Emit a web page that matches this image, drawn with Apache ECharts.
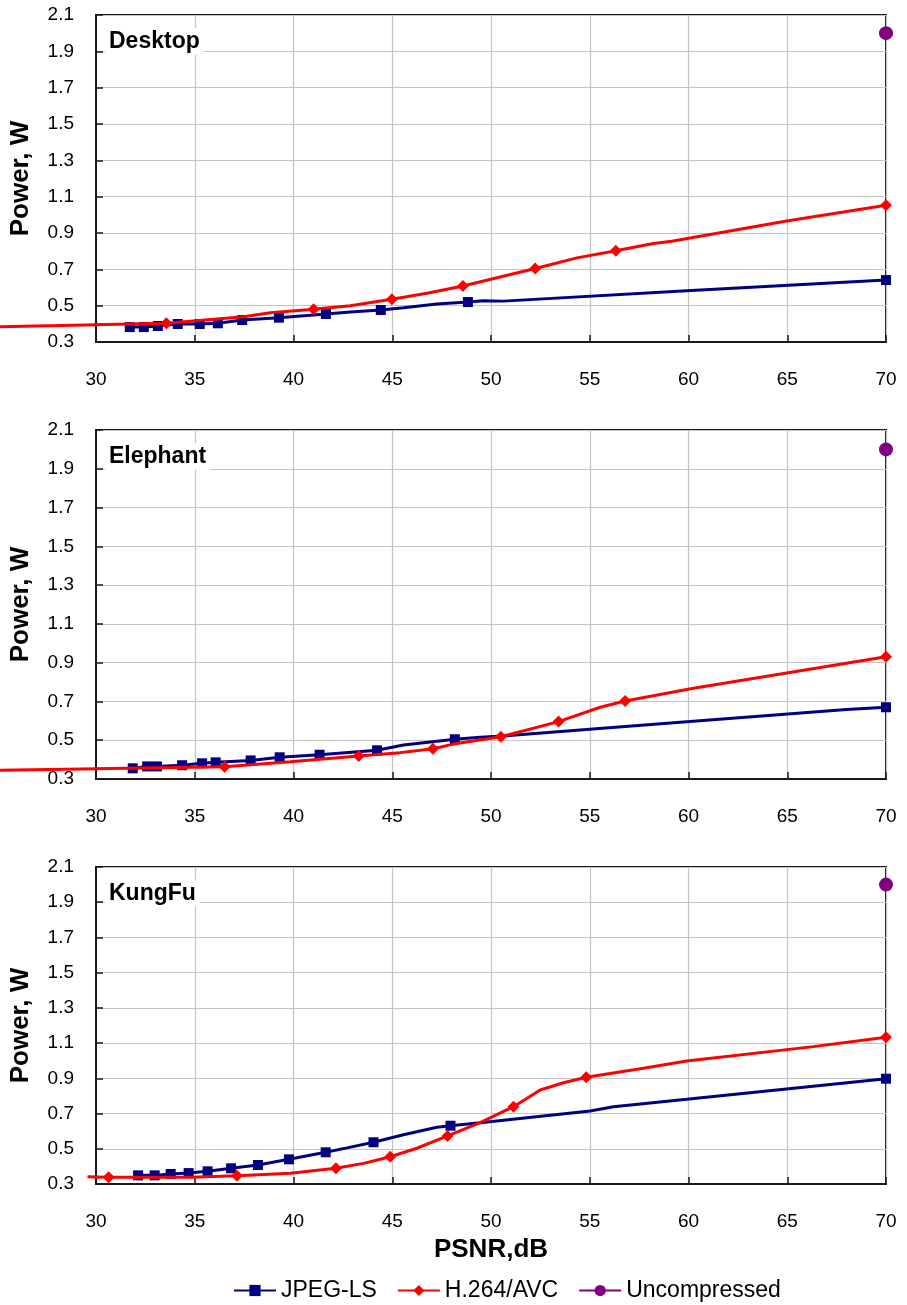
<!DOCTYPE html>
<html>
<head>
<meta charset="utf-8">
<script src="https://cdn.jsdelivr.net/npm/echarts@6/dist/echarts.min.js"></script>
<style>
html,body{margin:0;padding:0;background:#fff;}
#chart{width:907px;height:1305px;}
</style>
</head>
<body>
<div id="chart"></div>
<script>
// ---------- DATA ----------
const panelNames = ['Desktop', 'Elephant', 'KungFu'];
const seriesNames = ['JPEG-LS', 'H.264/AVC', 'Uncompressed'];
const xTickValues = [30, 35, 40, 45, 50, 55, 60, 65, 70];
const yTickValues = [0.3, 0.5, 0.7, 0.9, 1.1, 1.3, 1.5, 1.7, 1.9, 2.1];

// Desktop
const desktopJpegX = [31.71, 32.42, 33.13, 34.14, 35.25, 36.17, 37.40, 39.26, 41.64, 42.87, 44.42, 45.57, 47.26, 48.83, 49.62, 50.63, 59.91, 70];
const desktopJpegY = [0.382, 0.382, 0.388, 0.399, 0.399, 0.403, 0.421, 0.434, 0.454, 0.465, 0.476, 0.489, 0.509, 0.520, 0.527, 0.525, 0.582, 0.641];
const desktopJpegM = [1, 1, 1, 1, 1, 1, 1, 1, 1, 0, 1, 0, 0, 1, 0, 0, 0, 1];
const desktopAvcX = [24.0, 33.56, 37.47, 38.83, 41.02, 42.87, 44.98, 46.76, 48.58, 52.24, 54.35, 56.32, 58.22, 59.15, 64.97, 70];
const desktopAvcY = [0.382, 0.403, 0.439, 0.461, 0.480, 0.500, 0.535, 0.568, 0.608, 0.705, 0.763, 0.802, 0.842, 0.855, 0.966, 1.053];
const desktopAvcM = [0, 1, 0, 0, 1, 0, 1, 0, 1, 1, 0, 1, 0, 0, 0, 1];
const desktopRawX = [70];
const desktopRawY = [2.0];

// Elephant
const elephantJpegX = [31.86, 32.59, 33.09, 34.36, 35.37, 36.06, 37.83, 39.30, 41.32, 44.23, 45.57, 48.17, 49.45, 50.6, 55.0, 59.91, 68.0, 70];
const elephantJpegY = [0.355, 0.365, 0.365, 0.371, 0.381, 0.386, 0.396, 0.412, 0.425, 0.448, 0.475, 0.505, 0.515, 0.522, 0.556, 0.595, 0.659, 0.670];
const elephantJpegM = [1, 1, 1, 1, 1, 1, 1, 1, 1, 1, 0, 1, 0, 0, 0, 0, 0, 1];
const elephantAvcX = [24.0, 36.51, 39.84, 43.30, 45.40, 47.06, 48.10, 50.50, 53.42, 55.53, 56.79, 58.90, 60.25, 70];
const elephantAvcY = [0.344, 0.363, 0.389, 0.419, 0.436, 0.456, 0.480, 0.518, 0.596, 0.670, 0.702, 0.742, 0.768, 0.931];
const elephantAvcM = [0, 1, 0, 1, 0, 1, 0, 1, 1, 0, 1, 0, 0, 1];
const elephantRawX = [70];
const elephantRawY = [2.0];

// KungFu
const kungfuJpegX = [32.13, 32.97, 33.78, 34.69, 35.65, 36.84, 38.20, 39.77, 41.63, 42.71, 44.05, 45.57, 47.26, 47.95, 49.45, 55.02, 56.20, 59.91, 70];
const kungfuJpegY = [0.349, 0.349, 0.357, 0.362, 0.372, 0.389, 0.408, 0.440, 0.480, 0.505, 0.537, 0.580, 0.622, 0.631, 0.648, 0.715, 0.739, 0.781, 0.898];
const kungfuJpegM = [1, 1, 1, 1, 1, 1, 1, 1, 1, 0, 1, 0, 0, 1, 0, 0, 0, 0, 1];
const kungfuAvcX = [29.57, 30.64, 34.78, 37.14, 39.84, 42.15, 43.55, 44.90, 46.25, 47.80, 49.45, 51.14, 52.49, 53.67, 54.82, 57.72, 59.91, 66.32, 70];
const kungfuAvcY = [0.341, 0.338, 0.338, 0.347, 0.361, 0.389, 0.417, 0.455, 0.503, 0.573, 0.648, 0.739, 0.834, 0.875, 0.906, 0.957, 0.998, 1.080, 1.133];
const kungfuAvcM = [0, 1, 0, 1, 0, 1, 0, 1, 0, 1, 0, 1, 0, 0, 1, 0, 0, 0, 1];
const kungfuRawX = [70];
const kungfuRawY = [2.0];

// ---------- BUILD ----------
const FONT = '"Liberation Sans", Arial, Helvetica, sans-serif';
const panels = [
  {jx: desktopJpegX, jy: desktopJpegY, jm: desktopJpegM, ax: desktopAvcX, ay: desktopAvcY, am: desktopAvcM, rx: desktopRawX, ry: desktopRawY},
  {jx: elephantJpegX, jy: elephantJpegY, jm: elephantJpegM, ax: elephantAvcX, ay: elephantAvcY, am: elephantAvcM, rx: elephantRawX, ry: elephantRawY},
  {jx: kungfuJpegX, jy: kungfuJpegY, jm: kungfuJpegM, ax: kungfuAvcX, ay: kungfuAvcY, am: kungfuAvcM, rx: kungfuRawX, ry: kungfuRawY}
];
const GRID_LEFT = 96, GRID_RIGHT = 21, CHART_W = 907;
const layout = [
  {top: 15, height: 327},
  {top: 430, height: 349},
  {top: 867, height: 317}
];
const xMin = xTickValues[0], xMax = xTickValues[xTickValues.length - 1];
const yMin = yTickValues[0], yMax = yTickValues[yTickValues.length - 1];
// value range covered by the margin left of the plot (Excel draws the line there too)
const plotW = CHART_W - GRID_LEFT - GRID_RIGHT;
const leftExtMin = xMin - GRID_LEFT * (xMax - xMin) / plotW;

function pts(xs, ys, ms, sym) {
  return xs.map((x, i) => ({value: [x, ys[i]], symbol: ms[i] ? sym : 'none'}));
}

const grids = [], xAxes = [], yAxes = [], series = [], titles = [], extSeries = [];
layout.forEach((L, i) => {
  grids.push({left: GRID_LEFT, right: GRID_RIGHT, top: L.top, height: L.height, show: true,
    borderColor: '#1a1a1a', borderWidth: 2, backgroundColor: 'transparent'});
  xAxes.push({
    type: 'value', gridIndex: i, min: xMin, max: xMax,
    interval: xTickValues[1] - xTickValues[0],
    axisLine: {show: true, onZero: false, lineStyle: {color: '#1a1a1a', width: 2}},
    axisTick: {show: true, inside: true, length: 7, lineStyle: {color: '#1a1a1a', width: 1.5}},
    axisLabel: {color: '#000', fontSize: 19, fontFamily: FONT, margin: 28},
    splitLine: {show: true, lineStyle: {color: '#c4c4c4', width: 1.2}},
    name: i === 2 ? 'PSNR,dB' : '',
    nameLocation: 'middle', nameGap: 53,
    nameTextStyle: {color: '#000', fontSize: 26, fontWeight: 'bold', fontFamily: FONT}
  });
  yAxes.push({
    type: 'value', gridIndex: i, min: yMin, max: yMax,
    interval: +(yTickValues[1] - yTickValues[0]).toFixed(1),
    axisLine: {show: true, onZero: false, lineStyle: {color: '#1a1a1a', width: 2}},
    axisTick: {show: true, inside: true, length: 7, lineStyle: {color: '#1a1a1a', width: 1.5}},
    axisLabel: {color: '#000', fontSize: 19, fontFamily: FONT, margin: 22,
      formatter: v => v.toFixed(1)},
    splitLine: {show: true, lineStyle: {color: '#c4c4c4', width: 1.2}},
    name: 'Power, W', nameLocation: 'middle', nameGap: 62,
    nameTextStyle: {color: '#000', fontSize: 26, fontWeight: 'bold', fontFamily: FONT}
  });
  titles.push({
    text: panelNames[i], left: 105, top: L.top + 13,
    backgroundColor: '#fff', padding: [2, 4, 2, 4],
    textStyle: {color: '#000', fontSize: 23, fontWeight: 'bold', fontFamily: FONT}
  });
  const P = panels[i];
  series.push({
    name: seriesNames[0], type: 'line', xAxisIndex: i, yAxisIndex: i,
    data: pts(P.jx, P.jy, P.jm, 'rect'), symbol: 'rect', symbolSize: 10, showSymbol: true,
    color: '#000080', lineStyle: {color: '#000080', width: 3}, itemStyle: {color: '#000080'},
    z: 3, animation: false
  });
  series.push({
    name: seriesNames[1], type: 'line', xAxisIndex: i, yAxisIndex: i,
    data: pts(P.ax, P.ay, P.am, 'diamond'), symbol: 'diamond', symbolSize: 12, showSymbol: true,
    color: '#ff0000', lineStyle: {color: '#ff0000', width: 3}, itemStyle: {color: '#ff0000'},
    z: 4, animation: false
  });
  series.push({
    name: seriesNames[2], type: 'line', xAxisIndex: i, yAxisIndex: i,
    data: P.rx.map((x, k) => [x, P.ry[k]]), symbol: 'circle', symbolSize: 14, showSymbol: true,
    color: '#800080', lineStyle: {color: '#800080', width: 1.5}, itemStyle: {color: '#800080'},
    z: 5, animation: false
  });
  // same H.264 series drawn again in a hidden coordinate system covering the left margin
  extSeries.push({gi: 3 + i, P: P});
});
// hidden left-margin coordinate systems
layout.forEach((L, i) => {
  grids.push({left: 0, width: GRID_LEFT, top: L.top, height: L.height, show: false});
  xAxes.push({type: 'value', gridIndex: 3 + i, min: leftExtMin, max: xMin, show: false,
    splitLine: {show: false}});
  yAxes.push({type: 'value', gridIndex: 3 + i, min: yMin, max: yMax, show: false,
    splitLine: {show: false}});
});
extSeries.forEach(e => {
  series.push({
    name: seriesNames[1], type: 'line', xAxisIndex: e.gi, yAxisIndex: e.gi, clip: true,
    data: pts(e.P.ax, e.P.ay, e.P.am, 'diamond'), symbol: 'diamond', symbolSize: 12, showSymbol: true,
    color: '#ff0000', lineStyle: {color: '#ff0000', width: 3}, itemStyle: {color: '#ff0000'},
    z: 4, animation: false
  });
});

const chart = echarts.init(document.getElementById('chart'), null, {renderer: 'canvas'});
chart.setOption({
  backgroundColor: '#fff',
  animation: false,
  title: titles,
  grid: grids,
  xAxis: xAxes,
  yAxis: yAxes,
  legend: {
    data: seriesNames, bottom: 3, left: 233, padding: 0,
    itemWidth: 42, itemHeight: 14, itemGap: 20,
    textStyle: {color: '#000', fontSize: 23, fontFamily: FONT}
  },
  series: series
});
</script>
</body>
</html>
